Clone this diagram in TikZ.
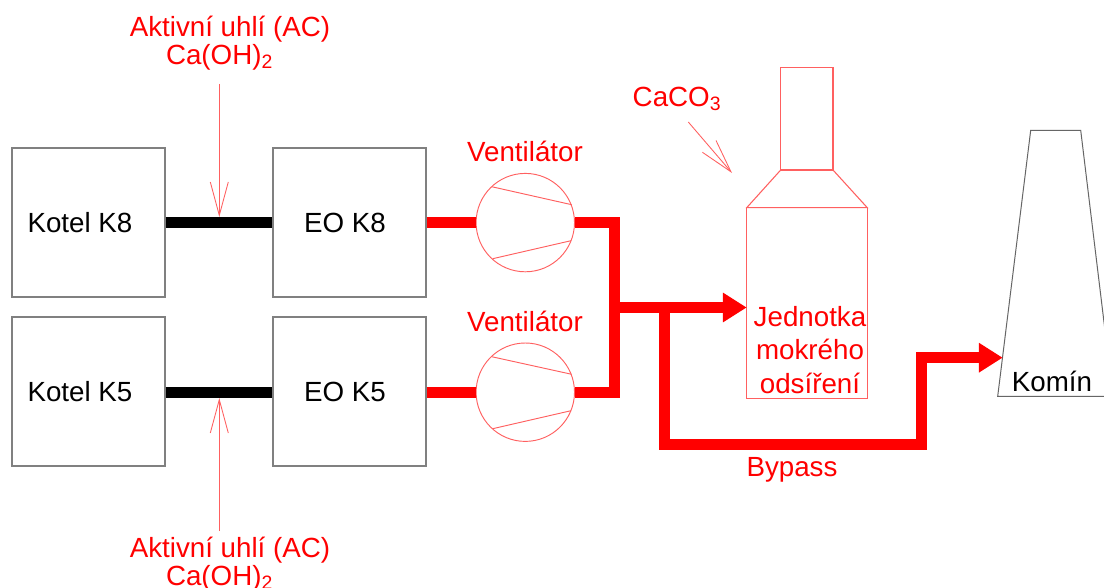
\documentclass[tikz,border=0pt]{standalone}
\usepackage{fontspec}
\setmainfont{Liberation Sans}
\usetikzlibrary{arrows.meta}
\definecolor{boxgray}{HTML}{808080}
\definecolor{thinred}{HTML}{FF6060}
\tikzset{
  x=0.75pt,y=-0.75pt,
  boxnode/.style={draw=boxgray,line width=0.8pt,minimum width=114.75pt,minimum height=111.75pt,inner sep=0pt},
  fan/.style={circle,draw=thinred,line width=0.7pt,minimum size=73.8pt,inner sep=0pt},
  blade/.style={draw=thinred,line width=0.7pt},
  gasline/.style={draw=red,line width=8.2pt,line join=miter},
  gasarrow/.style={gasline,-{Triangle[length=17.8pt,width=21pt]}},
  coalline/.style={draw=black,line width=8.4pt},
  feed/.style={draw=thinred,line width=0.65pt,-{Straight Barb[length=25pt,width=13.5pt,line width=0.65pt]}},
  towerline/.style={draw=thinred,line width=0.8pt},
  redlabel/.style={text=red,font=\fontsize{20.8}{25}\selectfont,inner sep=0pt,align=center},
  blacklabel/.style={text=black,font=\fontsize{20.8}{25}\selectfont,inner sep=0pt,align=center},
}
\begin{document}
\begin{tikzpicture}
\useasboundingbox (0,0) rectangle (1104,588);
\clip (0,0) rectangle (1104,588);
\fill[white] (0,0) rectangle (1104,588);
% boxes
\node[boxnode] (k8) at (88.5,222.5) {};
\node[boxnode] (e8) at (349.5,222.5) {};
\node[boxnode] (k5) at (88.5,391.5) {};
\node[boxnode] (e5) at (349.5,391.5) {};
\node[blacklabel] (k8t) at (80,222.5) {Kotel K8};
\node[blacklabel] (e8t) at (345,222.5) {EO K8};
\node[blacklabel] (k5t) at (80,391.5) {Kotel K5};
\node[blacklabel] (e5t) at (345,391.5) {EO K5};
% fans
\node[fan] (f8) at (525.3,222.6) {};
\node[fan] (f5) at (525.3,392.2) {};
\draw[blade] (491.7,186.7) -- (571.7,204.7) (492.7,258.7) -- (571,240.7);
\draw[blade] (491.7,356.7) -- (571.7,374.3) (492.7,428.7) -- (571,410.7);
% black connectors
\draw[coalline] (k8.east) -- (e8.west);
\draw[coalline] (k5.east |- f5) -- (e5.west |- f5);
% tower
\draw[towerline] (780.7,170) -- (780.7,67.3) -- (833,67.3) -- (833,170) -- cycle;
\draw[towerline] (780.7,170) -- (746.7,207.7) -- (867.3,207.7) -- (833,170);
\draw[towerline] (746.7,207.7) -- (746.7,398.7) -- (867.3,398.7) -- (867.3,207.7);
\coordinate (towerin) at (746.7,307.5);
% chimney
\draw[draw=boxgray!80!black,line width=0.75pt] (997.7,396.3) -- (1030.7,130.3) -- (1080.7,130.3) -- (1113,396.3) -- cycle;
\coordinate (chimin) at (1002.7,357.7);
% gas pipes
\coordinate (j8) at (614.8,222.6);
\coordinate (j5) at (614.8,392.2);
\coordinate (jm) at (614.8,307.5);
\coordinate (jb) at (664.5,307.5);
\draw[gasline] (e8.east |- f8) -- (f8.west);
\draw[gasline] (e5.east |- f5) -- (f5.west);
\draw[gasline] (f8.east) -- (j8) -- (j5) -- (f5.east);
\draw[gasarrow] (jm) -- (towerin);
\draw[gasarrow] (jb) -- (664.5,444.5) -- (921.5,444.5) -- (921.5,357.7) -- (chimin);
% feed arrows
\coordinate (a8s) at (219.3,84);
\coordinate (a8e) at (219.3,217);
\coordinate (a5s) at (219.3,531);
\coordinate (a5e) at (219.3,398);
\coordinate (cs) at (688.3,122);
\coordinate (ce) at (732,173);
\draw[feed] (a8s) -- (a8e);
\draw[feed] (a5s) -- (a5e);
\draw[feed] (cs) -- (ce);
% labels
\node[redlabel] (t8) at (230,43.5) {Aktivní uhlí (AC)\\[-4pt]Ca(OH)$_{\mathrm{2}}$\hspace*{15.75pt}};
\node[redlabel] (t5) at (230,564.5) {Aktivní uhlí (AC)\\[-4pt]Ca(OH)$_{\mathrm{2}}$\hspace*{15.75pt}};
\node[redlabel] (v8) at (525,151) {Ventilátor};
\node[redlabel] (v5) at (525,321) {Ventilátor};
\node[redlabel] (caco) at (677,99) {CaCO$_{\mathrm{3}}$};
\node[redlabel] (jed) at (810,350) {Jednotka\\mokrého\\odsíření};
\node[redlabel] (byp) at (792,470) {Bypass};
\node[blacklabel] (kom) at (1052,381) {Komín};
\end{tikzpicture}
\end{document}
